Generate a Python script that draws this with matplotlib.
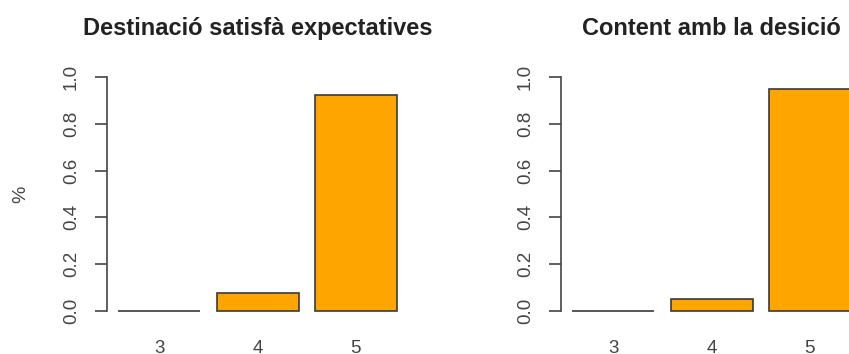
import matplotlib
matplotlib.use('Agg')
import matplotlib.pyplot as plt

# proportion of answers per score
scores = ['3', '4', '5']
satisfa = [0.0, 1 / 13, 12 / 13]
content = [0.0, 0.05, 0.95]
titles = ['Destinació satisfà expectatives', 'Content amb la desició']
yticks = [0.0, 0.2, 0.4, 0.6, 0.8, 1.0]

W, H = 849, 354
plt.rcParams['font.family'] = ['Liberation Sans', 'DejaVu Sans']

fig = plt.figure(figsize=(W / 100, H / 100), dpi=100)

# R barplot style: width 1, space 0.2, 4% padding on both axes
pos = [0.7, 1.9, 3.1]
xlim = (0.2 - 0.136, 3.6 + 0.136)
unit = 82.0
y0_px, y1_px = 311.0, 77.0
ppy = y0_px - y1_px
bottom_px = y0_px + 0.04 * ppy
top_px = y1_px - 0.04 * ppy
ax_w = (xlim[1] - xlim[0]) * unit


def panel(left_px, vals, title, ylab=None):
    ax = fig.add_axes([left_px / W, 1 - bottom_px / H, ax_w / W, (bottom_px - top_px) / H])
    ax.bar(pos, vals, width=1.0, color='#FFA500', edgecolor='#3a3a3a', linewidth=1.2)
    ax.set_xlim(*xlim)
    ax.set_ylim(-0.04, 1.04)
    for s in ['top', 'right', 'bottom']:
        ax.spines[s].set_visible(False)
    ax.spines['left'].set_bounds(0, 1)
    ax.spines['left'].set_color('#444444')
    ax.spines['left'].set_linewidth(1.2)
    ax.set_yticks(yticks)
    ax.set_yticklabels(['%.1f' % v for v in yticks], rotation=90, va='center')
    ax.tick_params(axis='y', length=8.6, width=1.2, color='#444444', pad=11,
                   labelsize=13.5, labelcolor='#444444')
    ax.set_xticks(pos)
    ax.set_xticklabels(scores)
    ax.tick_params(axis='x', length=0, pad=14.5, labelsize=13.5, labelcolor='#444444')
    ax.text(0.5, 1 + (top_px - 29) / (bottom_px - top_px), title, transform=ax.transAxes,
            ha='center', va='center', fontsize=17, fontweight='bold', color='#222222')
    if ylab:
        fig.text(21 / W, 1 - 194 / H, ylab, rotation=90, ha='center', va='center',
                 fontsize=14, color='#444444')
    return ax


panel(107, satisfa, titles[0], ylab='%')
panel(561, content, titles[1])

fig.savefig('out.png', dpi=100)
